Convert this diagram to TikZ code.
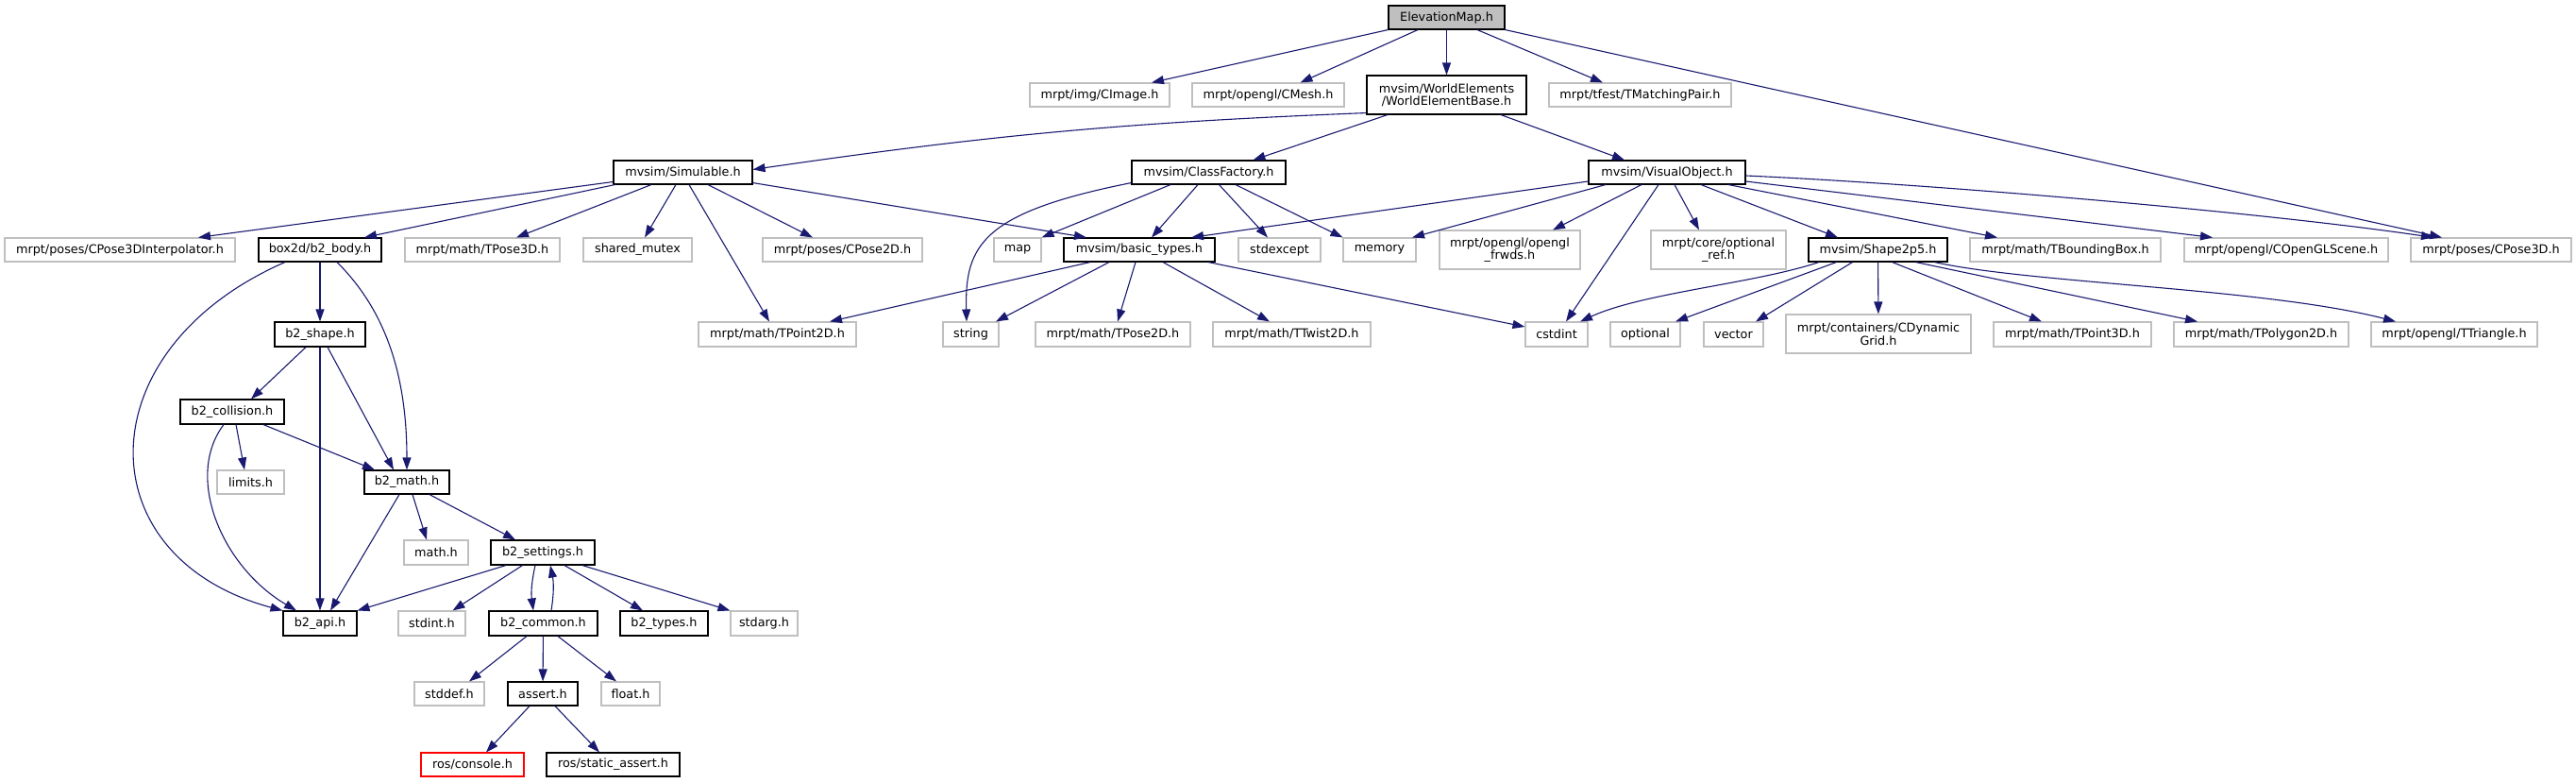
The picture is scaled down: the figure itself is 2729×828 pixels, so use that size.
\documentclass[tikz,border=0pt]{standalone}
\usepackage{fontspec}
\setmainfont{DejaVu Sans}
\usetikzlibrary{arrows.meta}
\definecolor{edgec}{HTML}{191970}
\definecolor{gborder}{HTML}{BFBFBF}
\definecolor{elevfill}{HTML}{BFBFBF}
\tikzset{
  nd/.style={rectangle, inner sep=0pt, line width=1.1pt, fill=white, align=center,
    font=\fontsize{12.8pt}{13.5pt}\selectfont},
  ext/.style={nd, draw=gborder},
  int/.style={nd, draw=black},
  redb/.style={nd, draw=red},
  wh/.style 2 args={minimum width=#1pt, minimum height=#2pt},
  dep/.style={draw=edgec, line width=1.1pt, -{Triangle[length=13pt,width=9pt]}}
}
\begin{document}
\begin{tikzpicture}[x=1pt,y=-1pt]
\useasboundingbox (0,0) rectangle (2729,828);
% row 1
\node[int, wh={123}{25}, fill=elevfill] (elev) at (1532.5,18.5) {ElevationMap.h};
% row 2
\node[ext, wh={148}{25}] (cimage) at (1165,100.5) {mrpt/img/CImage.h};
\node[ext, wh={161}{25}] (cmesh) at (1343.5,100.5) {mrpt/opengl/CMesh.h};
\node[int, wh={169}{41}] (web) at (1532.5,100.5) {mvsim/WorldElements\\/WorldElementBase.h};
\node[ext, wh={193}{25}] (tmatch) at (1737.5,100.5) {mrpt/tfest/TMatchingPair.h};
% row 3
\node[int, wh={147}{25}] (simul) at (723.5,182.5) {mvsim/Simulable.h};
\node[int, wh={163}{25}] (cfact) at (1280.5,182.5) {mvsim/ClassFactory.h};
\node[int, wh={166}{25}] (visobj) at (1766,182.5) {mvsim/VisualObject.h};
% row 4
\node[ext, wh={244}{25}] (interp) at (127,264.5) {mrpt/poses/CPose3DInterpolator.h};
\node[int, wh={130}{25}] (body) at (339,264.5) {box2d/b2\_body.h};
\node[ext, wh={164}{25}] (tpose3d) at (511,264.5) {mrpt/math/TPose3D.h};
\node[ext, wh={115}{25}] (shmutex) at (675.5,264.5) {shared\_mutex};
\node[ext, wh={169}{25}] (cpose2d) at (892.5,264.5) {mrpt/poses/CPose2D.h};
\node[ext, wh={50}{25}] (map) at (1078,264.5) {map};
\node[int, wh={160}{25}] (btypes) at (1207,264.5) {mvsim/basic\_types.h};
\node[ext, wh={87}{25}] (stdexc) at (1355.5,264.5) {stdexcept};
\node[ext, wh={77}{25}] (memory) at (1461.5,264.5) {memory};
\node[ext, wh={149}{41}] (frwds) at (1599.5,264.5) {mrpt/opengl/opengl\\\_frwds.h};
\node[ext, wh={143}{41}] (optref) at (1820.5,264.5) {mrpt/core/optional\\\_ref.h};
\node[int, wh={147}{25}] (shape) at (1989.5,264.5) {mvsim/Shape2p5.h};
\node[ext, wh={202}{25}] (tbbox) at (2188,264.5) {mrpt/math/TBoundingBox.h};
\node[ext, wh={216}{25}] (glscene) at (2422,264.5) {mrpt/opengl/COpenGLScene.h};
\node[ext, wh={170}{25}] (cpose3d) at (2639,264.5) {mrpt/poses/CPose3D.h};
% row 5
\node[int, wh={96}{26}] (b2shape) at (339,354) {b2\_shape.h};
\node[ext, wh={167}{26}] (tpoint2d) at (823.5,354) {mrpt/math/TPoint2D.h};
\node[ext, wh={59}{26}] (string) at (1028.5,354) {string};
\node[ext, wh={164}{26}] (tpose2d) at (1179,354) {mrpt/math/TPose2D.h};
\node[ext, wh={167}{26}] (ttwist) at (1368.5,354) {mrpt/math/TTwist2D.h};
\node[ext, wh={66}{26}] (cstdint) at (1649,354) {cstdint};
\node[ext, wh={74}{26}] (optional) at (1743,354) {optional};
\node[ext, wh={63}{26}] (vector) at (1836.5,354) {vector};
\node[ext, wh={196}{41}] (cdyn) at (1990,353.5) {mrpt/containers/CDynamic\\Grid.h};
\node[ext, wh={167}{26}] (tpoint3d) at (2195.5,354) {mrpt/math/TPoint3D.h};
\node[ext, wh={185}{26}] (tpoly) at (2395.5,354) {mrpt/math/TPolygon2D.h};
\node[ext, wh={176}{26}] (ttri) at (2600,354) {mrpt/opengl/TTriangle.h};
% lower rows
\node[int, wh={110}{26}] (coll) at (246,436) {b2\_collision.h};
\node[ext, wh={71}{25}] (limits) at (265.5,510.5) {limits.h};
\node[int, wh={90}{25}] (b2math) at (431,510.5) {b2\_math.h};
\node[ext, wh={68}{26}] (mathh) at (462,585) {math.h};
\node[int, wh={110}{26}] (settings) at (575,585) {b2\_settings.h};
\node[int, wh={78}{26}] (api) at (339,660) {b2\_api.h};
\node[ext, wh={71}{26}] (stdint) at (457.5,660) {stdint.h};
\node[int, wh={115}{26}] (common) at (575.5,660) {b2\_common.h};
\node[int, wh={93}{26}] (types) at (703.5,660) {b2\_types.h};
\node[ext, wh={71}{26}] (stdarg) at (809.5,660) {stdarg.h};
\node[ext, wh={74}{25}] (stddef) at (476,734.5) {stddef.h};
\node[int, wh={74}{25}] (assert) at (575,734.5) {assert.h};
\node[ext, wh={62}{25}] (float) at (668,734.5) {float.h};
\node[redb, wh={109}{25}] (console) at (500.5,809.5) {ros/console.h};
\node[int, wh={141}{25}] (sassert) at (649.5,809.5) {ros/static\_assert.h};
% edges from ElevationMap
\draw[dep] (elev.south west) -- ([xshift=55pt]cimage.north);
\draw[dep] ([xshift=-30.5pt]elev.south) -- ([xshift=34pt]cmesh.north);
\draw[dep] (elev) -- (web);
\draw[dep] ([xshift=32.5pt]elev.south) -- ([xshift=-39.5pt]tmatch.north);
\draw[dep] (elev.south east) -- ([xshift=-52pt]cpose3d.north);
% WorldElementBase
\draw[dep] ([yshift=2pt]web.south west) to[bend right=3] ([yshift=3pt]simul.east);
\draw[dep] ([xshift=-62.5pt]web.south) -- ([xshift=47pt]cfact.north);
\draw[dep] ([xshift=57.5pt]web.south) -- ([xshift=-45pt]visobj.north);
% Simulable
\draw[dep] ([yshift=-10pt]simul.west) -- ([xshift=83pt]interp.north);
\draw[dep] ([xshift=2pt]simul.south west) -- ([xshift=47pt]body.north);
\draw[dep] ([xshift=-33.5pt]simul.south) -- ([xshift=36pt]tpose3d.north);
\draw[dep] ([xshift=-7.5pt]simul.south) -- ([xshift=7.5pt]shmutex.north);
\draw[dep] ([xshift=6.5pt]simul.south) -- ([xshift=-8.5pt]tpoint2d.north);
\draw[dep] ([xshift=26.5pt]simul.south) -- ([xshift=-31.5pt]cpose2d.north);
\draw[dep] ([yshift=2pt]simul.south east) -- ([xshift=-56pt]btypes.north);
% ClassFactory
\draw[dep] ([xshift=-40.5pt]cfact.south) -- (map.north east);
\draw[dep] ([yshift=2pt]cfact.south west) .. controls (1040,225) and (1022,260) .. ([xshift=-4.5pt]string.north);
\draw[dep] ([xshift=-11.5pt]cfact.south) -- ([xshift=13pt]btypes.north);
\draw[dep] ([xshift=11pt]cfact.south) -- ([xshift=-12.5pt]stdexc.north);
\draw[dep] ([xshift=28.5pt]cfact.south) -- (memory.north west);
% VisualObject
\draw[dep] ([yshift=-9.5pt]visobj.west) -- ([xshift=55pt]btypes.north);
\draw[dep] ([xshift=-65pt]visobj.south) -- ([xshift=34.5pt]memory.north);
\draw[dep] ([xshift=-27pt]visobj.south) -- ([xshift=45.5pt]frwds.north);
\draw[dep] ([xshift=-9pt]visobj.south) -- ([xshift=10pt]cstdint.north);
\draw[dep] ([xshift=8pt]visobj.south) -- ([xshift=-20.5pt]optref.north);
\draw[dep] ([xshift=36pt]visobj.south) -- ([xshift=-42.5pt]shape.north);
\draw[dep] ([xshift=65pt]visobj.south) -- ([xshift=-72pt]tbbox.north);
\draw[dep] ([yshift=-9.5pt]visobj.east) -- ([xshift=-78pt]glscene.north);
\draw[dep] ([yshift=-3.5pt]visobj.east) .. controls (2050,195) and (2400,225) .. ([xshift=-61pt]cpose3d.north);
% basic_types
\draw[dep] ([xshift=-52pt]btypes.south) -- ([xshift=55.5pt]tpoint2d.north);
\draw[dep] ([xshift=-32pt]btypes.south) -- ([xshift=26.5pt]string.north);
\draw[dep] ([xshift=-4pt]btypes.south) -- ([xshift=5pt]tpose2d.north);
\draw[dep] ([xshift=25pt]btypes.south) -- ([xshift=-23.5pt]ttwist.north);
\draw[dep] ([xshift=73pt]btypes.south) -- ([yshift=8pt]cstdint.west);
% Shape2p5
\draw[dep] ([xshift=-62.5pt]shape.south) .. controls (1860,300) and (1740,310) .. ([xshift=25pt]cstdint.north);
\draw[dep] ([xshift=-44pt]shape.south) -- ([xshift=32pt]optional.north);
\draw[dep] ([xshift=-27pt]shape.south) -- ([xshift=23.5pt]vector.north);
\draw[dep] (shape) -- (cdyn);
\draw[dep] ([xshift=15pt]shape.south) -- ([xshift=-32.5pt]tpoint3d.north);
\draw[dep] ([xshift=40pt]shape.south) -- ([xshift=-67.5pt]tpoly.north);
\draw[dep] ([xshift=60pt]shape.south) .. controls (2150,300) and (2400,305) .. ([xshift=-62pt]ttri.north);
% box2d
\draw[dep] (body) -- (b2shape);
\draw[dep] ([xshift=18pt]body.south) .. controls (410,330) and (431,400) .. (b2math.north);
\draw[dep] ([xshift=-37pt]body.south) .. controls (90,370) and (90,590) .. (api.north west);
\draw[dep] ([xshift=-15pt]b2shape.south) -- ([xshift=20pt]coll.north);
\draw[dep] ([xshift=8pt]b2shape.south) -- ([xshift=-14pt]b2math.north);
\draw[dep] (b2shape) -- (api);
\draw[dep] ([xshift=4pt]coll.south) -- ([xshift=-6.5pt]limits.north);
\draw[dep] ([xshift=33pt]coll.south) -- ([xshift=-34pt]b2math.north);
\draw[dep] ([xshift=-9pt]coll.south) .. controls (195,505) and (235,600) .. ([xshift=-25pt]api.north);
\draw[dep] ([xshift=6pt]b2math.south) -- ([xshift=-10pt]mathh.north);
\draw[dep] ([xshift=24pt]b2math.south) -- ([xshift=-29pt]settings.north);
\draw[dep] ([xshift=-8pt]b2math.south) -- ([xshift=11pt]api.north);
\draw[dep] ([xshift=-39pt]settings.south) -- (api.north east);
\draw[dep] ([xshift=-21.5pt]settings.south) -- ([xshift=22pt]stdint.north);
\draw[dep] ([xshift=-8pt]settings.south) to[bend right=10] ([xshift=-10.5pt]common.north);
\draw[dep] ([xshift=8.5pt]common.north) to[bend right=10] ([xshift=8pt]settings.south);
\draw[dep] ([xshift=23pt]settings.south) -- ([xshift=-22.5pt]types.north);
\draw[dep] ([xshift=42pt]settings.south) -- (stdarg.north west);
\draw[dep] ([xshift=-17.5pt]common.south) -- ([xshift=21pt]stddef.north);
\draw[dep] (common) -- (assert);
\draw[dep] ([xshift=15.5pt]common.south) -- ([xshift=-15pt]float.north);
\draw[dep] ([xshift=-14pt]assert.south) -- ([xshift=14.5pt]console.north);
\draw[dep] ([xshift=13pt]assert.south) -- ([xshift=-14.5pt]sassert.north);
\end{tikzpicture}
\end{document}
